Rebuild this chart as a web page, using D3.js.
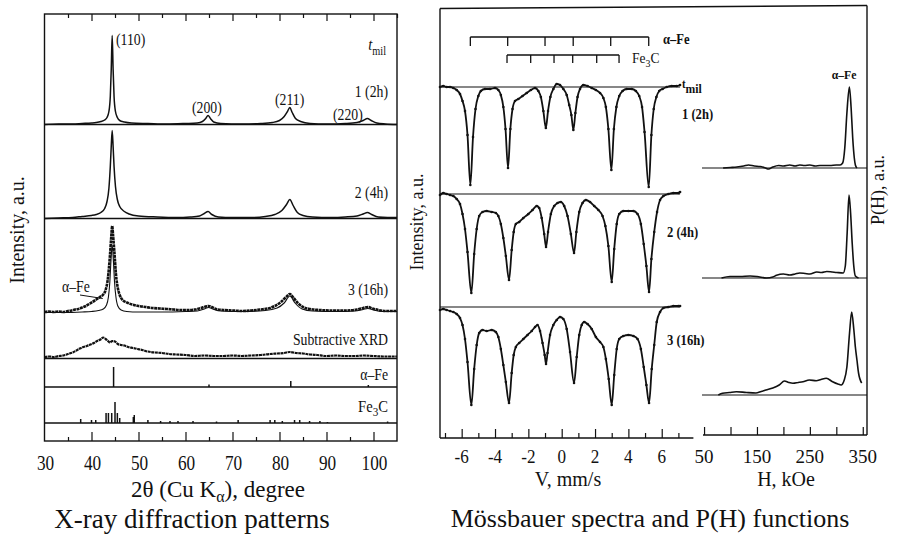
<!DOCTYPE html>
<html>
<head>
<meta charset="utf-8">
<script src="https://cdn.jsdelivr.net/npm/d3@7"></script>
<style>
  html, body { margin: 0; padding: 0; background: #fff; }
  svg { display: block; }
  text { font-family: "Liberation Serif", "Times New Roman", "DejaVu Serif", serif; fill: #111; }
</style>
</head>
<body>
<svg id="chart" width="904" height="541"></svg>
<script>
// ---------- X-ray diffraction (2θ in degrees, intensity in a.u.) ----------
const xrdTickLabels = [30, 40, 50, 60, 70, 80, 90, 100];

const xrd2h = [[30,0],[33,0.5],[36,0.5],[38,1],[40,1.5],[41,2],[42,3],[42.8,4.5],[43.3,7],[43.7,13],[44.0,28],[44.2,55],[44.4,89],[44.6,55],[44.8,28],[45.1,13],[45.5,7],[46,4],[47,2.5],[48.5,1.5],[52,1],[56,0.5],[60,1],[62.5,1.5],[63.6,3],[64.3,6],[64.8,9],[65.3,6],[66,2.5],[67.5,1],[72,0.5],[76,1],[78.5,2],[80,4],[81,8],[81.7,13],[82.2,17],[82.7,12],[83.4,6],[84.5,3],[86.5,1],[90,0.5],[94,1],[96.5,2],[97.8,4],[98.7,6],[99.5,4],[100.7,1.5],[102.5,0.5],[105,0]];

const xrd4h = [[30,0],[33,0.5],[36,1],[38,2],[40,3],[41,4],[42,6],[42.8,10],[43.3,17],[43.7,30],[44.0,52],[44.2,72],[44.4,88],[44.6,72],[44.8,52],[45.1,32],[45.5,19],[46,12],[47,7],[48,4.5],[50,2.5],[54,1.5],[58,1],[61,1.5],[63,2.5],[64,5],[64.8,7],[65.6,4],[67,1.5],[70,1],[74,1],[77,2],[79,4],[80.5,8],[81.5,14],[82.2,19],[82.9,13],[83.8,6],[85,3],[87,1.5],[91,1],[94,1.5],[96.5,2.5],[97.8,4.5],[98.7,6],[99.6,4],[101,1.5],[103,1],[105,1]];

const xrd16h = [[30,0],[31,0.5],[32,0],[33,0.5],[34,0],[35,1],[35.8,1.5],[36.5,2.5],[37.2,3],[38,4.5],[38.8,6],[39.5,8],[40.2,10],[41,12.5],[41.8,15],[42.4,17],[43,22],[43.5,34],[43.9,55],[44.2,75],[44.4,86],[44.6,76],[44.9,58],[45.2,38],[45.6,24],[46,17],[46.6,12],[47.3,10],[48,8.5],[49,7],[50,6],[51.5,5],[53,4],[54.5,3.5],[56,3],[57.5,2.5],[59,2],[60.5,2],[62,2.5],[63.3,4],[64.3,5.5],[64.9,6],[65.6,5],[66.5,3],[68,2],[70,1.5],[72,1],[74,1.5],[76,2.5],[77.5,3.5],[79,6],[80.3,10],[81.4,15],[82.2,18],[83,14],[83.9,9],[85,5],[86.5,3],[88.5,2],[91,1.5],[94,1.5],[96.5,2.5],[97.8,4],[98.8,5],[99.8,3.5],[101,2],[102.5,1],[104,1],[105,1]];

const xrd16hFit = [[30,-0.5],[34,-0.5],[38,0],[40,0.5],[41.5,1.5],[42.5,3],[43.2,7],[43.6,15],[43.9,30],[44.15,52],[44.4,67],[44.65,52],[44.9,30],[45.2,15],[45.6,6],[46.3,2],[47.5,0.5],[50,0],[55,0],[60,0.5],[62.5,1],[64,3],[64.9,4.5],[65.8,3],[67.5,1],[72,0.5],[77,1.5],[79.5,4],[81,9],[82.2,16],[83.3,9],[84.8,3],[87,1],[92,0.5],[96,1],[97.8,2.5],[98.8,3.5],[100,2],[102,0.5],[105,0.5]];

const xrdSubtractive = [[30,0],[31,0.5],[32,0],[33,1],[34,1.5],[35,3],[36,4.5],[36.8,6.5],[37.5,8.5],[38.3,10],[39,11],[39.8,12.5],[40.5,14],[41.2,16],[41.9,17.5],[42.5,19.5],[43,18],[43.5,16],[43.9,14.5],[44.4,16],[45,15.5],[45.6,13],[46.3,12],[47,11.5],[47.8,10],[48.8,9],[49.8,8],[50.8,7],[52,5.5],[53.5,4.5],[55,4],[56.5,3],[58,2.5],[60,2],[62,1],[64,1.5],[66,1],[68,1],[70,1.5],[72,1],[74,1.5],[76,2],[78,3],[79.5,3.5],[81,4],[82.2,5],[83.5,4],[85,3.5],[86.5,2.5],[88,2],[90,1],[92,1.5],[94,1],[96,1],[98,1.5],[100,1],[102,0.5],[105,0.5]];

// reference line patterns: [2θ, relative intensity]
const alphaFeSticks = [[44.7,20],[65.0,2.5],[82.4,6],[98.9,2]];
const fe3cSticks = [[37.7,4],[40.0,3],[40.9,3],[43.1,10],[43.6,10],[44.3,10],[45.0,21],[45.5,10],[46.0,5],[48.9,6],[49.1,8],[52.0,3],[54.7,2],[56.7,2],[58.4,2],[61.6,2],[66.6,1.5],[71.2,3],[78.0,3],[79.0,3],[80.6,2],[83.2,3],[84.3,3],[86.4,2],[88.6,2],[90.2,1],[103,1.5]];

// ---------- Mössbauer spectra (velocity mm/s, absorption a.u.) ----------
const velTickLabels = [-6, -4, -2, 0, 2, 4, 6];

const moss2h = [[-7.3,0],[-7.1,-1],[-6.9,0],[-6.7,0],[-6.5,1],[-6.3,3],[-6.1,7],[-5.95,14],[-5.8,24],[-5.65,48],[-5.48,98],[-5.32,50],[-5.17,22],[-5.0,9],[-4.85,4],[-4.6,2],[-4.3,2],[-4.0,1],[-3.8,3],[-3.65,8],[-3.5,20],[-3.37,42],[-3.22,81],[-3.08,42],[-2.95,22],[-2.8,14],[-2.6,12],[-2.35,9],[-2.1,6],[-1.85,3],[-1.6,1],[-1.4,4],[-1.25,10],[-1.1,24],[-0.95,41],[-0.82,24],[-0.68,10],[-0.5,2],[-0.3,-3],[-0.1,-2],[0.1,2],[0.3,8],[0.45,18],[0.58,28],[0.7,43],[0.82,26],[0.95,10],[1.1,2],[1.3,-2],[1.55,-1],[1.8,1],[2.05,3],[2.3,6],[2.5,11],[2.65,20],[2.8,42],[2.98,83],[3.13,42],[3.28,20],[3.45,9],[3.65,4],[3.9,2],[4.2,2],[4.45,4],[4.65,9],[4.82,20],[4.97,45],[5.22,100],[5.38,48],[5.52,22],[5.68,10],[5.85,4],[6.05,2],[6.3,0],[6.6,-1],[6.9,-1],[7.1,-2]];

const moss4h = [[-7.3,1],[-7.1,-1],[-6.9,0],[-6.7,1],[-6.5,2],[-6.3,5],[-6.1,10],[-5.95,20],[-5.8,35],[-5.65,58],[-5.42,99],[-5.25,60],[-5.1,35],[-4.95,22],[-4.75,18],[-4.5,17],[-4.2,18],[-3.95,19],[-3.8,22],[-3.65,30],[-3.5,44],[-3.35,62],[-3.16,86],[-3.0,56],[-2.88,38],[-2.75,30],[-2.55,28],[-2.3,24],[-2.0,20],[-1.75,16],[-1.5,12],[-1.35,14],[-1.2,24],[-1.05,40],[-0.94,53],[-0.82,38],[-0.65,20],[-0.45,12],[-0.25,9],[-0.05,8],[0.15,12],[0.35,22],[0.55,40],[0.74,59],[0.88,38],[1.05,18],[1.25,9],[1.45,6],[1.7,8],[1.95,12],[2.2,16],[2.45,22],[2.62,32],[2.8,52],[3.0,88],[3.15,55],[3.3,30],[3.45,20],[3.7,17],[4.0,17],[4.3,17],[4.55,20],[4.75,30],[4.92,50],[5.08,72],[5.24,98],[5.38,65],[5.55,38],[5.72,18],[5.9,6],[6.1,2],[6.4,0],[6.7,-1],[7.0,-1],[7.1,-2]];

const moss16h = [[-7.3,3],[-7.1,2],[-6.9,3],[-6.7,4],[-6.5,5],[-6.3,7],[-6.1,11],[-5.95,18],[-5.8,32],[-5.65,55],[-5.42,98],[-5.25,62],[-5.1,38],[-4.95,26],[-4.75,23],[-4.5,24],[-4.2,23],[-3.95,25],[-3.8,30],[-3.65,42],[-3.5,58],[-3.35,75],[-3.16,96],[-3.0,66],[-2.88,48],[-2.75,40],[-2.55,36],[-2.3,32],[-2.05,28],[-1.8,24],[-1.6,20],[-1.45,18],[-1.3,24],[-1.15,36],[-1.02,48],[-0.94,57],[-0.85,46],[-0.7,28],[-0.5,18],[-0.3,13],[-0.1,10],[0.1,12],[0.3,22],[0.5,45],[0.74,76],[0.9,50],[1.05,28],[1.2,18],[1.35,15],[1.55,17],[1.8,22],[2.05,30],[2.3,35],[2.5,40],[2.65,52],[2.82,72],[3.0,98],[3.15,68],[3.3,42],[3.45,32],[3.7,29],[4.0,28],[4.3,29],[4.55,32],[4.75,42],[4.92,60],[5.08,78],[5.24,96],[5.4,62],[5.55,38],[5.7,15],[5.9,5],[6.1,1],[6.4,0],[6.7,-1],[7.0,-1],[7.1,-1]];

// line positions of the sextets (mm/s)
const alphaFeLines = [-5.48, -3.24, -1.0, 0.69, 2.94, 5.22];
const fe3cLines = [-3.28, -1.86, -0.46, 0.66, 2.10, 3.44];

// ---------- hyperfine field distributions P(H) (kOe, a.u.) ----------
const fieldTickLabels = [50, 150, 250, 350];

const ph2h = [[86,0],[100,0.5],[112,1],[125,2],[134,3],[145,2],[156,1.5],[166,0],[172,-1],[180,1],[191,2.5],[200,2],[212,3],[222,2],[231,3],[240,2.5],[250,3],[260,2],[269,2.5],[280,2.5],[288,2.5],[300,3],[307,3],[312,5],[316,20],[320,55],[324.7,81],[328,60],[331,30],[334,10],[336,3],[339,0]];

const ph4h = [[83,0],[99,1.5],[118,1.5],[137,2],[150,1.5],[168,0],[180,1],[187,2.7],[200,4],[212,3],[222,4],[231,5],[241,4.5],[250,4],[263,6],[272,5.5],[282,6.5],[292,6],[301,5.5],[313,5],[317,12],[320.5,45],[324,83],[327,65],[330,35],[333,12],[336,2],[342,0]];

const ph16h = [[77,0],[85,1.7],[98,2.5],[111,3.3],[130,2.5],[148,2],[158,3.5],[167,5],[180,7],[192,10],[202,14],[210,12.5],[218,11.7],[228,12.5],[237,13.3],[249,15],[262,14.3],[271,15.5],[281,16.7],[293,13.3],[303,11],[309,10],[315,15],[320,28],[325,62],[329,83],[333,66],[336,48],[339,35],[342,22],[348,12]];

// ==================================================================
const svg = d3.select("#chart");
const INK = "#111";

function addText(parent, x, y, size, spans, opt = {}) {
  const sx = opt.sx ?? 1;
  const rot = opt.rotate ? ` rotate(${opt.rotate})` : "";
  const t = parent.append("text")
    .attr("transform", `translate(${x},${y})${rot} scale(${sx},1)`)
    .attr("font-size", size)
    .attr("text-anchor", opt.anchor ?? "start");
  if (opt.weight) t.attr("font-weight", opt.weight);
  (typeof spans === "string" ? [{ t: spans }] : spans).forEach(s => {
    const ts = t.append("tspan").text(s.t);
    if (s.dy) ts.attr("dy", s.dy);
    if (s.fs) ts.attr("font-size", s.fs);
    if (s.it) ts.attr("font-style", "italic");
  });
  return t;
}
function hline(g, x1, x2, y, w = 1.2) {
  g.append("line").attr("x1", x1).attr("x2", x2).attr("y1", y).attr("y2", y)
    .attr("stroke", INK).attr("stroke-width", w);
}
function vline(g, x, y1, y2, w = 1.2) {
  g.append("line").attr("x1", x).attr("x2", x).attr("y1", y1).attr("y2", y2)
    .attr("stroke", INK).attr("stroke-width", w);
}
function tickAxis(g, axis, y, size, values) {
  g.append("g").attr("transform", `translate(0,${y})`)
    .call(axis.tickValues(values).tickSize(size).tickFormat(""))
    .call(a => a.select(".domain").remove())
    .call(a => a.selectAll("line").attr("stroke", INK).attr("stroke-width", 1.2));
}

// ================= X-ray diffraction panel =================
const gX = svg.append("g");
const xX = d3.scaleLinear().domain([30, 105]).range([44.5, 397]);
const rowY = base => d3.scaleLinear().domain([0, 100]).range([base, base - 100]);
const xrdPath = (data, y) => d3.line().x(d => xX(d[0])).y(d => y(d[1])).curve(d3.curveMonotoneX)(data);

// frame and strip dividers
gX.append("rect").attr("x", 44.5).attr("y", 14).attr("width", 352.5).attr("height", 427)
  .attr("fill", "none").attr("stroke", INK).attr("stroke-width", 1.4);
[124.5, 218.5, 358.5, 387, 423].forEach(y => hline(gX, 44.5, 397, y, 1.3));

// ticks: top edge (pointing down) and bottom strip (pointing up)
tickAxis(gX, d3.axisTop(xX), 14, -7, d3.range(40, 101, 10));
tickAxis(gX, d3.axisTop(xX), 14, -4, d3.range(35, 106, 10));
tickAxis(gX, d3.axisBottom(xX), 441, -9, d3.range(40, 101, 10));
tickAxis(gX, d3.axisBottom(xX), 441, -4, d3.range(35, 96, 10));

const yR1 = rowY(124.5), yR2 = rowY(218.5), yR3 = rowY(312), yR4 = rowY(357);
gX.append("path").attr("d", xrdPath(xrd2h, yR1)).attr("fill", "none").attr("stroke", INK).attr("stroke-width", 1.5);
gX.append("path").attr("d", xrdPath(xrd4h, yR2)).attr("fill", "none").attr("stroke", INK).attr("stroke-width", 1.5);
gX.append("path").attr("d", xrdPath(xrd16hFit, yR3)).attr("fill", "none").attr("stroke", INK).attr("stroke-width", 1.1);
gX.append("path").attr("d", xrdPath(xrd16h, yR3)).attr("fill", "none").attr("stroke", INK).attr("stroke-width", 2.6)
  .attr("stroke-dasharray", "3,0.6");
gX.append("path").attr("d", xrdPath(xrdSubtractive, yR4)).attr("fill", "none").attr("stroke", INK).attr("stroke-width", 2.2)
  .attr("stroke-dasharray", "3,0.6");

// reference stick patterns
const ySa = rowY(387), ySc = rowY(423);
gX.selectAll(".stickA").data(alphaFeSticks).join("line")
  .attr("x1", d => xX(d[0])).attr("x2", d => xX(d[0]))
  .attr("y1", ySa(0)).attr("y2", d => ySa(d[1])).attr("stroke", INK).attr("stroke-width", 1.5);
gX.selectAll(".stickC").data(fe3cSticks).join("line")
  .attr("x1", d => xX(d[0])).attr("x2", d => xX(d[0]))
  .attr("y1", ySc(0)).attr("y2", d => ySc(d[1])).attr("stroke", INK).attr("stroke-width", 1.5);

// annotations
const small = 16, sxS = 0.86;
addText(gX, 116, 45, small, "(110)", { sx: sxS });
addText(gX, 192, 113, small, "(200)", { sx: sxS });
addText(gX, 275, 105, small, "(211)", { sx: sxS });
addText(gX, 333, 120, small, "(220)", { sx: sxS });
addText(gX, 386, 50, 17, [{ t: "t", it: true }, { t: "mil", dy: 5, fs: 12 }], { sx: sxS, anchor: "end" });
addText(gX, 388, 97, small, "1 (2h)", { sx: sxS, anchor: "end" });
addText(gX, 388, 198, small, "2 (4h)", { sx: sxS, anchor: "end" });
addText(gX, 388, 295, small, "3 (16h)", { sx: sxS, anchor: "end" });
addText(gX, 62, 292, small, "α–Fe", { sx: sxS });
gX.append("line").attr("x1", 80).attr("y1", 295).attr("x2", xX(42.4)).attr("y2", 298.5)
  .attr("stroke", INK).attr("stroke-width", 1);
addText(gX, 388, 345, small, "Subtractive XRD", { sx: sxS, anchor: "end" });
addText(gX, 388, 380, small, "α–Fe", { sx: sxS, anchor: "end" });
addText(gX, 388, 412, 17, [{ t: "Fe" }, { t: "3", dy: 4, fs: 13 }, { t: "C", dy: -4 }], { sx: sxS, anchor: "end" });

// axis labels
xrdTickLabels.forEach(v => addText(gX, xX(v) + 1, 470, 21, String(v), { sx: 0.82, anchor: "middle" }));
addText(gX, 218, 497, 23, [{ t: "2θ (Cu K" }, { t: "α", dy: 5, fs: 16 }, { t: "), degree", dy: -5 }], { anchor: "middle" });
addText(gX, 192, 528, 27, "X-ray diffraction patterns", { anchor: "middle" });
addText(gX, 24, 230, 20, "Intensity, a.u.", { anchor: "middle", rotate: -90 });

// ================= Mössbauer panel =================
const gM = svg.append("g");
const xV = d3.scaleLinear().domain([-7.3, 7.9]).range([440, 693.4]);
const mossY = base => d3.scaleLinear().domain([0, 100]).range([base, base + 100]);
const mossRows = [
  { data: moss2h, y: mossY(87) },
  { data: moss4h, y: mossY(194) },
  { data: moss16h, y: mossY(307) }
];

vline(gM, 440, 8.5, 438, 1.4);
hline(gM, 440, 693.4, 438, 1.4);
gM.append("line").attr("x1", 440).attr("y1", 8.5).attr("x2", 867).attr("y2", 5.5)
  .attr("stroke", INK).attr("stroke-width", 1.4);
tickAxis(gM, d3.axisBottom(xV), 438, -9, d3.range(-6, 7, 2));
tickAxis(gM, d3.axisBottom(xV), 438, -5, d3.range(-7, 8, 2));

mossRows.forEach(r => {
  const first = r.data[0][0], last = r.data[r.data.length - 1][0];
  hline(gM, xV(first), xV(last), r.y(0), 1.1);
  gM.append("path")
    .attr("d", d3.line().x(d => xV(d[0])).y(d => r.y(d[1])).curve(d3.curveMonotoneX)(r.data))
    .attr("fill", "none").attr("stroke", INK).attr("stroke-width", 1.8);
  gM.selectAll(null).data(r.data).join("circle")
    .attr("cx", d => xV(d[0])).attr("cy", d => r.y(d[1])).attr("r", 1.3).attr("fill", INK);
});

// sextet line markers
const marker = (lines, y, len) => {
  hline(gM, xV(lines[0]), xV(lines[lines.length - 1]), y, 1.3);
  lines.forEach(v => vline(gM, xV(v), y, y + len, 1.3));
};
marker(alphaFeLines, 37, 9);
marker(fe3cLines, 55, 8);
addText(gM, 663, 44, 14, "α–Fe", { sx: 0.9, weight: "bold" });
addText(gM, 632, 63, 15, [{ t: "Fe" }, { t: "3", dy: 4, fs: 11 }, { t: "C", dy: -4 }], { sx: 0.9 });
addText(gM, 682, 88, 12, [{ t: "t" }, { t: "mil", dy: 5, fs: 13 }], { sx: 0.9, weight: "bold" });
addText(gM, 682, 119, 14, "1 (2h)", { sx: 0.9, weight: "bold" });
addText(gM, 667, 237, 14, "2 (4h)", { sx: 0.9, weight: "bold" });
addText(gM, 667, 345, 14, "3 (16h)", { sx: 0.9, weight: "bold" });

velTickLabels.forEach(v => addText(gM, xV(v), 463, 19, String(v), { sx: 0.9, anchor: "middle" }));
addText(gM, 568, 486, 20, "V, mm/s", { anchor: "middle" });
addText(gM, 423, 222, 18, "Intensity, a.u.", { anchor: "middle", rotate: -90 });
addText(gM, 650, 527, 26, "Mössbauer spectra and P(H) functions", { anchor: "middle" });

// ================= P(H) panel =================
const gP = svg.append("g");
const xH = d3.scaleLinear().domain([48, 358]).range([703, 867]);
const phY = base => d3.scaleLinear().domain([0, 100]).range([base, base - 100]);
const phRows = [
  { data: ph2h, y: phY(168) },
  { data: ph4h, y: phY(278) },
  { data: ph16h, y: phY(395) }
];
vline(gP, 867, 5.5, 435, 1.4);
hline(gP, 703, 867, 435, 1.4);
tickAxis(gP, d3.axisBottom(xH), 435, -8, d3.range(50, 351, 50));

phRows.forEach(r => {
  hline(gP, 702, 867, r.y(0), 1.1);
  gP.append("path")
    .attr("d", d3.line().x(d => xH(d[0])).y(d => r.y(d[1])).curve(d3.curveMonotoneX)(r.data))
    .attr("fill", "none").attr("stroke", INK).attr("stroke-width", 1.6);
});
addText(gP, 844, 79, 13, "α–Fe", { sx: 0.9, weight: "bold", anchor: "middle" });

fieldTickLabels.forEach(v => addText(gP, xH(v), 463, 19, String(v), { sx: 1, anchor: "middle" }));
addText(gP, 786, 486, 20, "H, kOe", { anchor: "middle" });
addText(gP, 884, 190, 18, "P(H), a.u.", { anchor: "middle", rotate: -90 });
</script>
</body>
</html>
